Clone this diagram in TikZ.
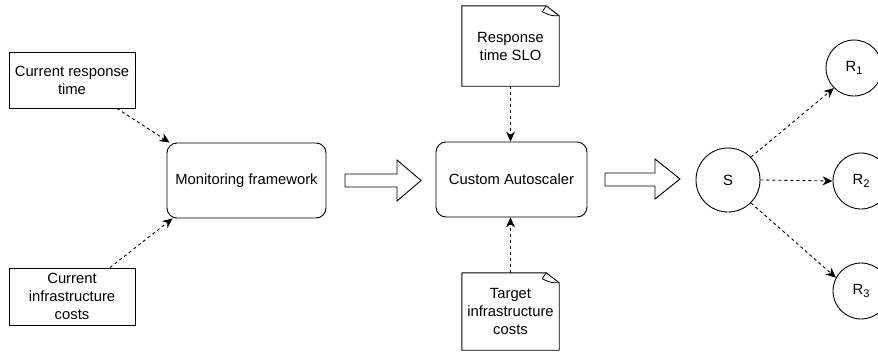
\documentclass[tikz,border=0pt]{standalone}
\usepackage{fontspec}
\setmainfont{Liberation Sans}
\usetikzlibrary{arrows.meta,calc}
\newcommand{\mysub}[1]{\raisebox{-3.5pt}{\fontsize{11}{11}\selectfont #1}}
\begin{document}
\begin{tikzpicture}[x=1pt,y=-1pt,
  every node/.style={font=\fontsize{14.8}{18}\selectfont, align=center, inner sep=0pt},
  plainbox/.style={draw, line width=0.9pt, rectangle},
  roundbox/.style={draw, line width=0.9pt, rectangle, rounded corners=10pt},
  notebox/.style={rectangle},
  circ/.style={draw, line width=0.9pt, circle},
  dasharrow/.style={line width=0.9pt, dash pattern=on 3pt off 3pt, -{Stealth[length=10pt,width=9pt]}},
  blockarrow/.style={draw, line width=0.9pt, fill=white, line join=miter}
]
\useasboundingbox (0,0) rectangle (878,354);
\clip (0,0) rectangle (878,354);

% left input boxes
\node[plainbox, minimum width=126pt, minimum height=56pt] (b1) at (72,80) {Current response\\time};
\node[plainbox, minimum width=126pt, minimum height=57pt] (b2) at (72,296.5) {Current\\infrastructure\\costs};

% monitoring framework
\node[roundbox, minimum width=159pt, minimum height=75pt] (mon) at (246.5,180.5) {Monitoring framework};

% custom autoscaler
\node[roundbox, minimum width=151pt, minimum height=75pt] (as) at (511.5,179.5) {Custom Autoscaler};

% notes
\node[notebox, minimum width=97pt, minimum height=80pt] (n1) at (510.5,46) {Response\\time SLO};
\node[notebox, minimum width=97pt, minimum height=77pt] (n2) at (510.5,311.5) {Target\\infrastructure\\costs};
\foreach \n in {n1,n2}{
  \draw[line width=0.9pt, line join=round]
    (\n.south west) -- (\n.north west) -- ($(\n.north east)+(-13,0)$) -- ($(\n.north east)+(0,10)$) -- (\n.south east) -- cycle;
  \draw[line width=0.8pt, line join=round]
    ($(\n.north east)+(-13,0)$) -- ($(\n.north east)+(-17,6)$) .. controls ($(\n.north east)+(-8,10)$) .. ($(\n.north east)+(0,10)$);
}

% circles
\node[circ, minimum size=64pt] (S) at (728,180) {S};
\node[circ, minimum size=56pt] (R1) at (854,68) {R\mysub{1}};
\node[circ, minimum size=56pt] (R2) at (861,181) {R\mysub{2}};
\node[circ, minimum size=56pt] (R3) at (861,291) {R\mysub{3}};

% dashed connectors
\draw[dasharrow] ($(b1.south)+(45,0)$) -- ($(mon.north west)+(3,0)$);
\draw[dasharrow] ($(b2.north)+(38,0)$) -- ($(mon.south west)+(6,0)$);
\draw[dasharrow] (n1.south) -- (n1.south |- as.north);
\draw[dasharrow] (n2.north) -- (n2.north |- as.south);
\draw[dasharrow] (S.45) -- (R1.225);
\draw[dasharrow] (S.east) -- (R2.west);
\draw[dasharrow] (S.-45) -- (R3.152);

% block arrows
\draw[blockarrow] (345,174) -- (397,174) -- (397,160) -- (421,180.5) -- (397,201) -- (397,187) -- (345,187) -- cycle;
\draw[blockarrow] (605,173) -- (655,173) -- (655,159) -- (680,179) -- (655,199) -- (655,186) -- (605,186) -- cycle;
\end{tikzpicture}
\end{document}
